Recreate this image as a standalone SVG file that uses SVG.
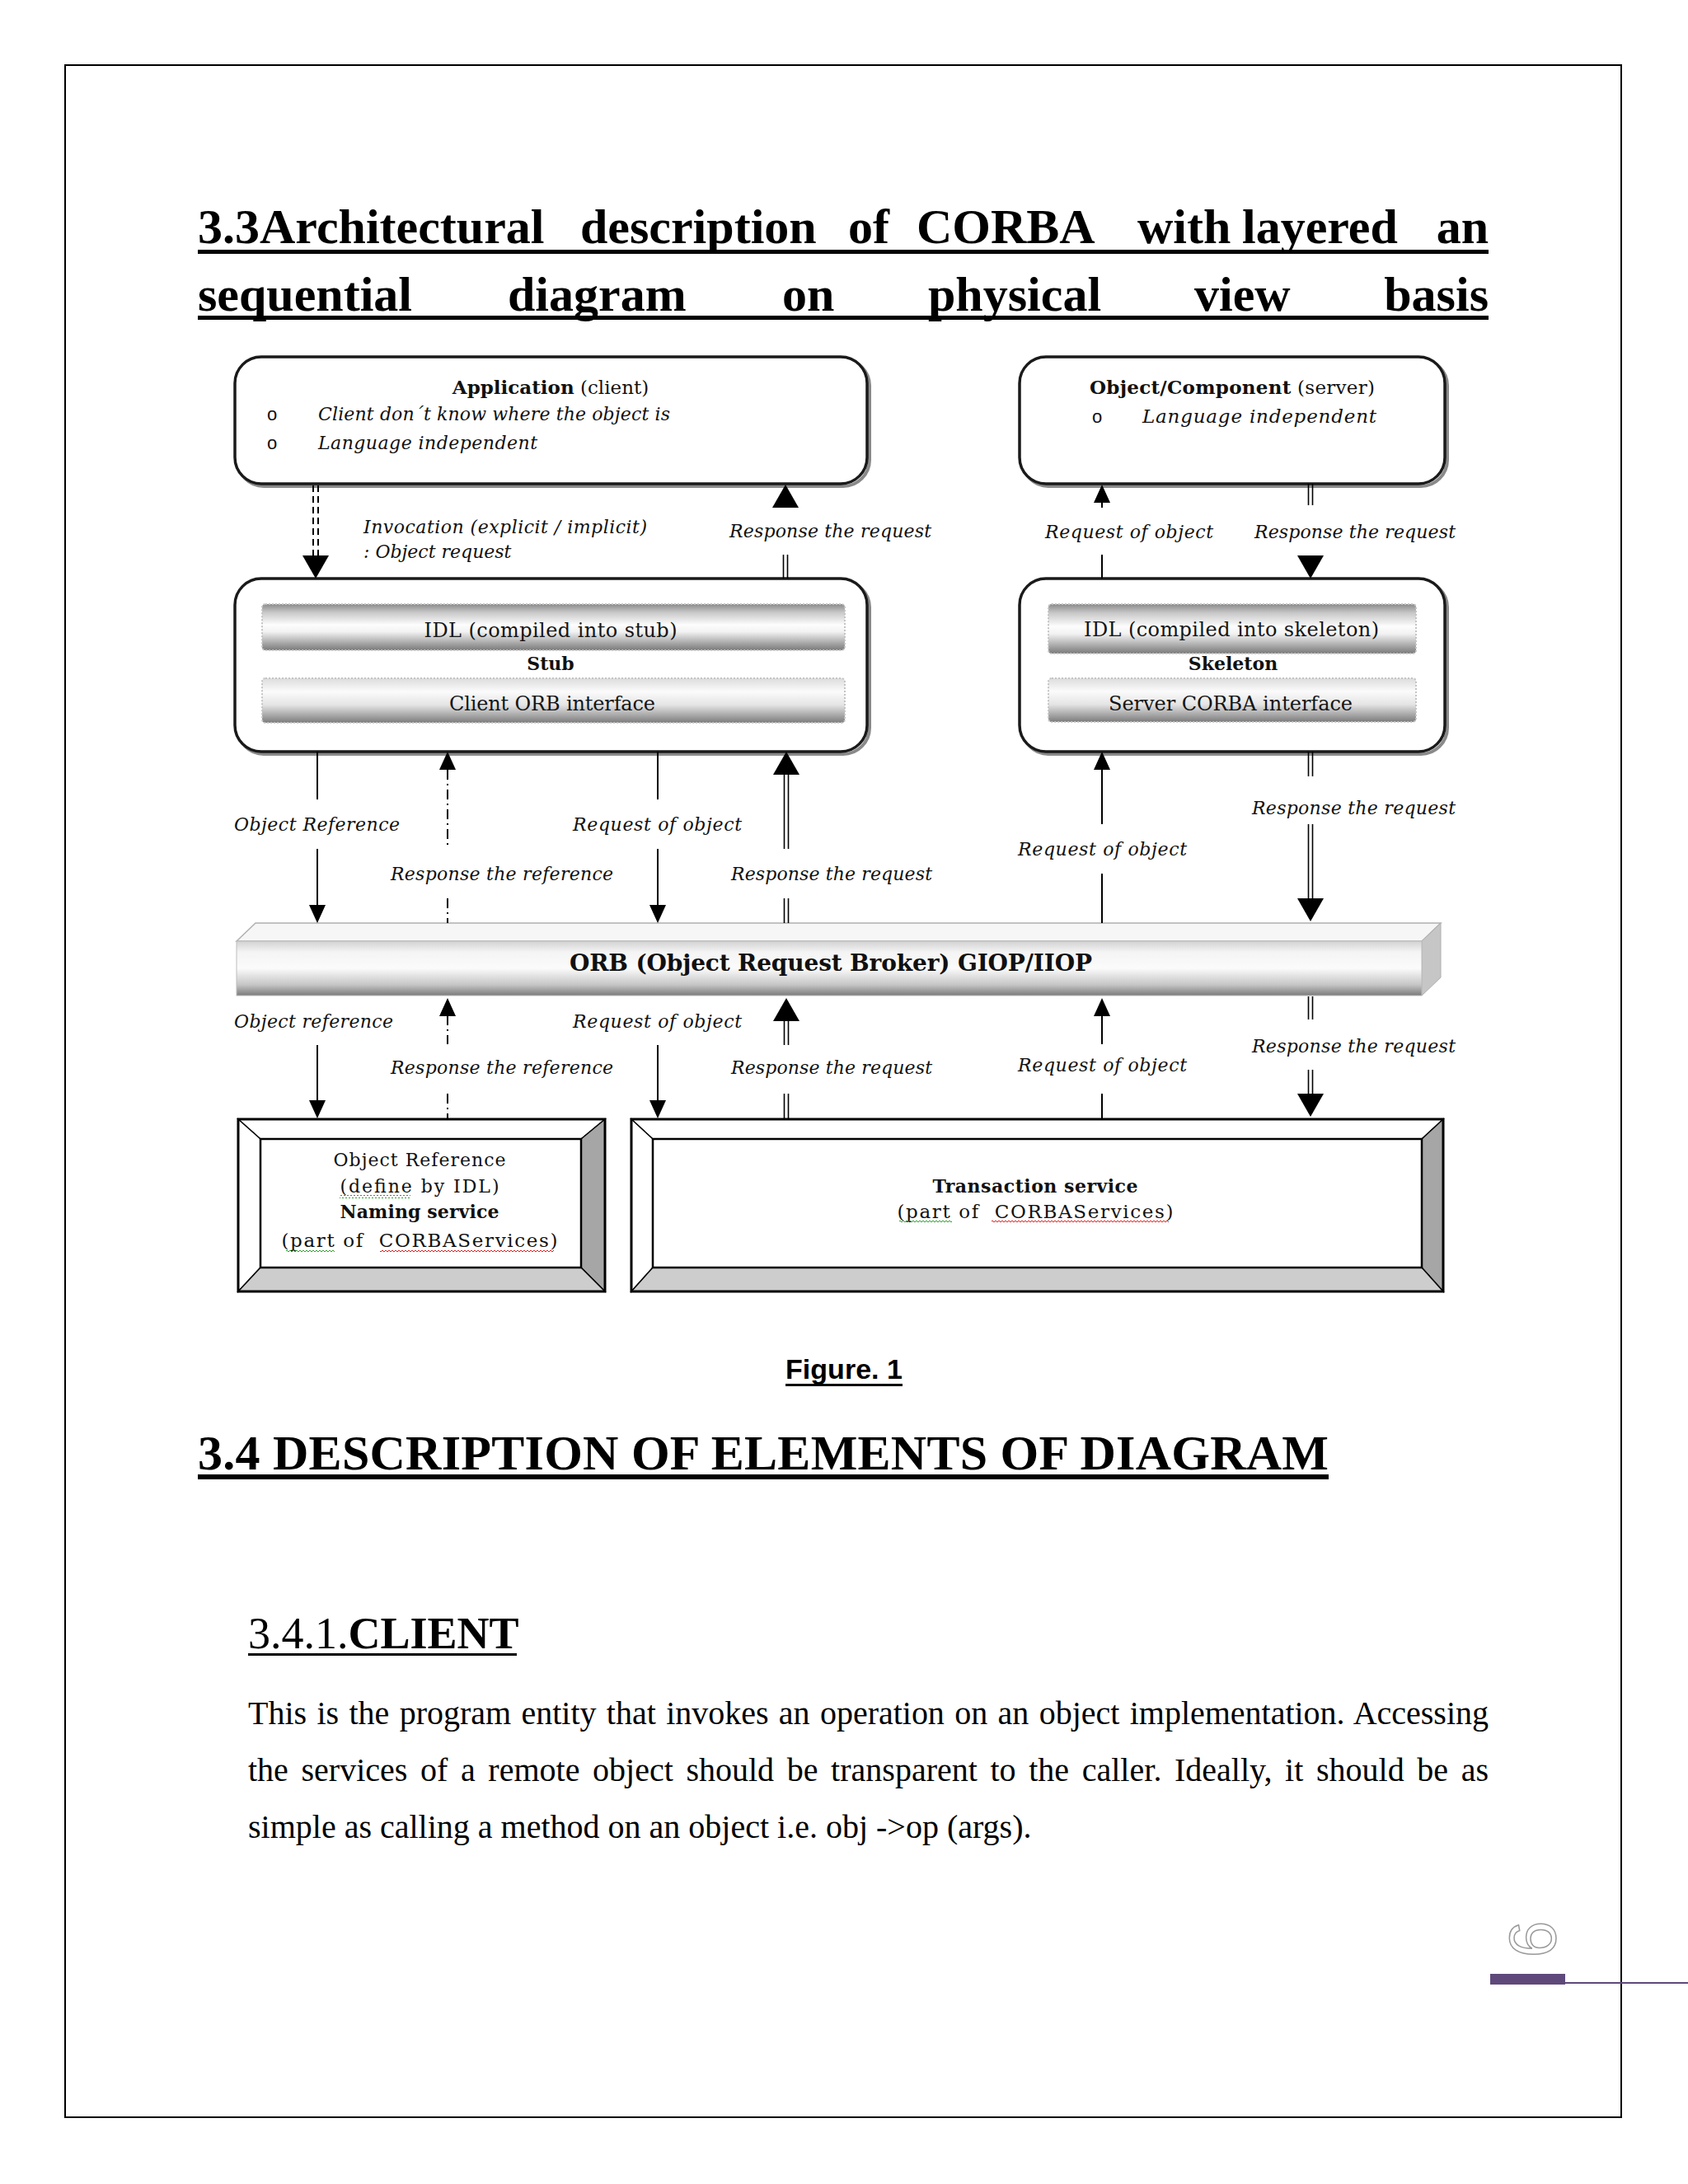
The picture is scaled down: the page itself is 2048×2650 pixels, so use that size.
<svg xmlns="http://www.w3.org/2000/svg" width="2048" height="2650" viewBox="0 0 2048 2650">
<defs>
<style>
.pg{fill:none;stroke:#000;stroke-width:2}
.h{font-family:"Liberation Serif","Times New Roman",serif;font-weight:bold;font-size:60px;fill:#000}
.lbl{font-family:"DejaVu Serif",serif;font-style:italic;font-size:22px;fill:#111}
.nt{font-family:"DejaVu Serif",serif;font-size:22px;fill:#111}
.bt{font-family:"DejaVu Serif",serif;font-size:24px;fill:#151515}
.bul{font-family:"Liberation Sans",sans-serif;font-size:22px;fill:#111}
.b{font-weight:bold}
.ln{stroke:#000;stroke-width:2;fill:none}
.dbl{stroke:#000;stroke-width:1.6;fill:none}
.dash{stroke-dasharray:12 5 2 5}
.dd{stroke-dasharray:8 5}
.rb{fill:#fff;stroke:#1a1a1a;stroke-width:3.5}
.rbs{fill:none;stroke:#8a8a8a;stroke-width:4}
.bar{stroke:#c4c4c4;stroke-width:2;stroke-dasharray:2 2}
.bev{stroke:#000;stroke-width:1.5}
.p{font-family:"Liberation Serif","Times New Roman",serif;font-size:40px;fill:#000}
.ah{fill:#000}
</style>
<linearGradient id="cyl" x1="0" y1="0" x2="0" y2="1">
<stop offset="0" stop-color="#8a8a8a"/><stop offset="0.18" stop-color="#c8c8c8"/><stop offset="0.45" stop-color="#fdfdfd"/><stop offset="0.6" stop-color="#f2f2f2"/><stop offset="0.85" stop-color="#a6a6a6"/><stop offset="1" stop-color="#7a7a7a"/>
</linearGradient>
<linearGradient id="cyl2" x1="0" y1="0" x2="0" y2="1">
<stop offset="0" stop-color="#dcdcdc"/><stop offset="0.3" stop-color="#fbfbfb"/><stop offset="0.6" stop-color="#e4e4e4"/><stop offset="1" stop-color="#7c7c7c"/>
</linearGradient>
<linearGradient id="orbF" x1="0" y1="0" x2="0" y2="1">
<stop offset="0" stop-color="#d2d2d2"/><stop offset="0.2" stop-color="#f4f4f4"/><stop offset="0.5" stop-color="#fbfbfb"/><stop offset="0.8" stop-color="#c6c6c6"/><stop offset="1" stop-color="#7a7a7a"/>
</linearGradient>
<pattern id="sqG" width="4" height="4" patternUnits="userSpaceOnUse"><path d="M0,1 L2,3 L4,1" stroke="#2e9e2e" stroke-width="1" fill="none"/></pattern>
<pattern id="sqR" width="4" height="4" patternUnits="userSpaceOnUse"><path d="M0,1 L2,3 L4,1" stroke="#e02020" stroke-width="1" fill="none"/></pattern>
<path id="ahS" class="ah" d="M-10,-22 L10,-22 L0,0 Z"/>
<path id="ahD" class="ah" d="M-16,-28 L16,-28 L0,0 Z"/>
</defs>

<rect width="2048" height="2650" fill="#fff"/>
<rect class="pg" x="79" y="79" width="1888" height="2490"/>

<!-- Title -->
<g id="title">
<text class="h" y="295"><tspan x="240">3.3Architectural</tspan><tspan x="704">description</tspan><tspan x="1029">of</tspan><tspan x="1112">CORBA</tspan><tspan x="1380">with</tspan><tspan x="1507">layered</tspan></text>
<text class="h" x="1806" y="295" text-anchor="end">an</text>
<text class="h" y="377"><tspan x="240">sequential</tspan><tspan x="616">diagram</tspan><tspan x="949">on</tspan><tspan x="1126">physical</tspan><tspan x="1449">view</tspan></text>
<text class="h" x="1806" y="377" text-anchor="end">basis</text>
<rect x="240" y="303" width="1566" height="5"/>
<rect x="240" y="383" width="1566" height="5"/>
</g>

<!-- Nodes -->
<g id="app">
<rect class="rbs" x="288" y="436" width="767" height="154" rx="32"/>
<rect class="rb" x="285" y="433" width="767" height="154" rx="32"/>
<text class="nt" x="668" y="478" text-anchor="middle" style="font-size:23px"><tspan class="b">Application</tspan> (client)</text>
<text class="bul" x="324" y="510">o</text>
<text class="lbl" x="386" y="510" textLength="427">Client don´t know where the object is</text>
<text class="bul" x="324" y="545">o</text>
<text class="lbl" x="386" y="545" textLength="266">Language independent</text>
</g>

<g id="objcomp">
<rect class="rbs" x="1240" y="436" width="516" height="154" rx="32"/>
<rect class="rb" x="1237" y="433" width="516" height="154" rx="32"/>
<text class="nt" x="1322" y="478" style="font-size:23px" textLength="346"><tspan class="b">Object/Component</tspan> (server)</text>
<text class="bul" x="1325" y="513">o</text>
<text class="lbl" x="1386" y="513" style="font-size:23px" textLength="284">Language independent</text>
</g>

<g id="stub">
<rect class="rbs" x="288" y="705" width="767" height="210" rx="32"/>
<rect class="rb" x="285" y="702" width="767" height="210" rx="32"/>
<rect class="bar" x="318" y="733" width="707" height="56" rx="4" fill="url(#cyl)"/>
<text class="bt" x="668" y="773" text-anchor="middle" textLength="307">IDL (compiled into stub)</text>
<text class="nt b" x="668" y="813" text-anchor="middle">Stub</text>
<rect class="bar" x="318" y="823" width="707" height="54" rx="4" fill="url(#cyl2)"/>
<text class="bt" x="670" y="862" text-anchor="middle" textLength="250">Client ORB interface</text>
</g>

<g id="skeleton">
<rect class="rbs" x="1240" y="705" width="516" height="210" rx="32"/>
<rect class="rb" x="1237" y="702" width="516" height="210" rx="32"/>
<rect class="bar" x="1272" y="733" width="446" height="60" rx="4" fill="url(#cyl)"/>
<text class="bt" x="1494" y="772" text-anchor="middle" textLength="358">IDL (compiled into skeleton)</text>
<text class="nt b" x="1496" y="813" text-anchor="middle">Skeleton</text>
<rect class="bar" x="1272" y="823" width="446" height="53" rx="4" fill="url(#cyl2)"/>
<text class="bt" x="1493" y="862" text-anchor="middle" textLength="296">Server CORBA interface</text>
</g>

<g id="orb">
<polygon points="287,1142 310,1120 1748,1120 1725,1142" fill="#f6f6f6" stroke="#b0b0b0" stroke-width="1.5"/>
<polygon points="1725,1142 1748,1120 1748,1186 1725,1208" fill="#c6c6c6" stroke="#b0b0b0" stroke-width="1"/>
<rect x="287" y="1142" width="1438" height="66" fill="url(#orbF)" stroke="#bdbdbd" stroke-width="1"/>
<text class="nt b" x="1008" y="1178" text-anchor="middle" style="font-size:28px" textLength="634">ORB (Object Request Broker) GIOP/IIOP</text>
</g>

<g id="naming">
<polygon points="289,1358 734,1358 705,1382 316,1382" fill="#fff" class="bev"/>
<polygon points="289,1358 316,1382 316,1538 289,1567" fill="#fff" class="bev"/>
<polygon points="734,1358 734,1567 705,1538 705,1382" fill="#a6a6a6" class="bev"/>
<polygon points="289,1567 316,1538 705,1538 734,1567" fill="#cdcdcd" class="bev"/>
<rect x="316" y="1382" width="389" height="156" fill="#fff" stroke="#000" stroke-width="2.5"/>
<rect x="289" y="1358" width="445" height="209" fill="none" stroke="#000" stroke-width="3"/>
<text class="nt" x="509" y="1415" text-anchor="middle" textLength="209">Object Reference</text>
<text class="nt" x="509" y="1447" text-anchor="middle" textLength="193">(define by IDL)</text>
<text class="nt b" x="509" y="1478" text-anchor="middle" textLength="193">Naming service</text>
<text class="nt" x="509" y="1513" text-anchor="middle" style="font-size:23px" textLength="335" xml:space="preserve">(part of  CORBAServices)</text>
<rect x="412" y="1450" width="86" height="4" fill="url(#sqG)"/>
<rect x="347" y="1516" width="59" height="4" fill="url(#sqG)"/>
<rect x="461" y="1516" width="211" height="4" fill="url(#sqR)"/>
</g>

<g id="transaction">
<polygon points="766,1358 1751,1358 1725,1382 792,1382" fill="#fff" class="bev"/>
<polygon points="766,1358 792,1382 792,1538 766,1567" fill="#fff" class="bev"/>
<polygon points="1751,1358 1751,1567 1725,1538 1725,1382" fill="#a6a6a6" class="bev"/>
<polygon points="766,1567 792,1538 1725,1538 1751,1567" fill="#cdcdcd" class="bev"/>
<rect x="792" y="1382" width="933" height="156" fill="#fff" stroke="#000" stroke-width="2.5"/>
<rect x="766" y="1358" width="985" height="209" fill="none" stroke="#000" stroke-width="3"/>
<text class="nt b" x="1256" y="1447" text-anchor="middle" textLength="249">Transaction service</text>
<text class="nt" x="1256" y="1478" text-anchor="middle" style="font-size:23px" textLength="335" xml:space="preserve">(part of  CORBAServices)</text>
<rect x="1091" y="1481" width="64" height="4" fill="url(#sqG)"/>
<rect x="1203" y="1481" width="215" height="4" fill="url(#sqR)"/>
</g>

<!-- Connectors -->
<g id="connectors">
<path class="ln dd" d="M380,589 V676 M386,589 V676"/>
<use href="#ahD" transform="translate(383,702)"/>
<use href="#ahD" transform="translate(953,588) rotate(180)"/>
<path class="dbl" d="M950.5,673 V702 M955.5,673 V702"/>
<use href="#ahS" transform="translate(1337,588) rotate(180)"/>
<path class="ln" d="M1337,609 V616 M1337,673 V702"/>
<path class="dbl" d="M1587.5,587 V613 M1592.5,587 V613"/>
<use href="#ahD" transform="translate(1590,702)"/>

<path class="ln" d="M385,912 V970 M385,1030 V1100"/>
<use href="#ahS" transform="translate(385,1120)"/>
<use href="#ahS" transform="translate(543,912) rotate(180)"/>
<path class="ln dash" d="M543,934 V1030 M543,1090 V1120"/>
<path class="ln" d="M798,912 V970 M798,1030 V1100"/>
<use href="#ahS" transform="translate(798,1120)"/>
<use href="#ahD" transform="translate(954,912) rotate(180)"/>
<path class="dbl" d="M951.5,940 V1030 M956.5,940 V1030 M951.5,1090 V1120 M956.5,1090 V1120"/>
<use href="#ahS" transform="translate(1337,912) rotate(180)"/>
<path class="ln" d="M1337,933 V1000 M1337,1060 V1120"/>
<path class="dbl" d="M1587.5,912 V942 M1592.5,912 V942 M1587.5,1000 V1091 M1592.5,1000 V1091"/>
<use href="#ahD" transform="translate(1590,1118)"/>

<path class="ln" d="M385,1268 V1336"/>
<use href="#ahS" transform="translate(385,1357)"/>
<use href="#ahS" transform="translate(543,1211) rotate(180)"/>
<path class="ln dash" d="M543,1232 V1267 M543,1327 V1358"/>
<path class="ln" d="M798,1268 V1336"/>
<use href="#ahS" transform="translate(798,1357)"/>
<use href="#ahD" transform="translate(954,1211) rotate(180)"/>
<path class="dbl" d="M951.5,1238 V1268 M956.5,1238 V1268 M951.5,1327 V1358 M956.5,1327 V1358"/>
<use href="#ahS" transform="translate(1337,1211) rotate(180)"/>
<path class="ln" d="M1337,1232 V1267 M1337,1327 V1358"/>
<path class="dbl" d="M1587.5,1209 V1237 M1592.5,1209 V1237 M1587.5,1298 V1328 M1592.5,1298 V1328"/>
<use href="#ahD" transform="translate(1590,1355)"/>

<text class="lbl" x="441" y="647" textLength="344">Invocation (explicit / implicit)</text>
<text class="lbl" x="441" y="677">: Object request</text>
<text class="lbl" x="885" y="652" textLength="245">Response the request</text>
<text class="lbl" x="1268" y="653" textLength="204">Request of object</text>
<text class="lbl" x="1522" y="653" textLength="244">Response the request</text>

<text class="lbl" x="284" y="1008" textLength="201">Object Reference</text>
<text class="lbl" x="695" y="1008" textLength="205">Request of object</text>
<text class="lbl" x="474" y="1068" textLength="270">Response the reference</text>
<text class="lbl" x="887" y="1068" textLength="244">Response the request</text>
<text class="lbl" x="1519" y="988" textLength="247">Response the request</text>
<text class="lbl" x="1235" y="1038" textLength="205">Request of object</text>

<text class="lbl" x="284" y="1247" textLength="193">Object reference</text>
<text class="lbl" x="695" y="1247" textLength="205">Request of object</text>
<text class="lbl" x="474" y="1303" textLength="270">Response the reference</text>
<text class="lbl" x="887" y="1303" textLength="244">Response the request</text>
<text class="lbl" x="1235" y="1300" textLength="205">Request of object</text>
<text class="lbl" x="1519" y="1277" textLength="247">Response the request</text>
</g>

<!-- Caption and text -->
<g id="caption">
<text x="1024" y="1673" text-anchor="middle" font-family="Liberation Sans, Arial, sans-serif" font-weight="bold" font-size="34" textLength="142">Figure. 1</text>
<rect x="953" y="1679" width="142" height="3"/>
</g>
<g id="body">
<text class="h" x="240" y="1783" textLength="1372">3.4 DESCRIPTION OF ELEMENTS OF DIAGRAM</text>
<rect x="240" y="1789" width="1372" height="6"/>
<text x="301" y="2000" font-family="Liberation Serif, serif" font-size="54">3.4.1.<tspan font-weight="bold">CLIENT</tspan></text>
<rect x="301" y="2006" width="326" height="3"/>
<text class="p" x="301" y="2092" word-spacing="2.4" textLength="1505">This is the program entity that invokes an operation on an object implementation. Accessing</text>
<text class="p" x="301" y="2161" word-spacing="5.6" textLength="1505">the services of a remote object should be transparent to the caller. Ideally, it should be as</text>
<text class="p" x="301" y="2230">simple as calling a method on an object i.e. obj -&gt;op (args).</text>
</g>

<g id="footer">
<text x="1859" y="2353" transform="rotate(-90 1859 2353)" font-family="Liberation Sans, sans-serif" font-size="80" text-anchor="middle" dominant-baseline="central" fill="none" stroke="#9a9a9a" stroke-width="1.5">6</text>
<rect x="1808" y="2395" width="91" height="13" fill="#5f497a"/>
<line x1="1899" y1="2406" x2="2048" y2="2406" stroke="#5f497a" stroke-width="2"/>
</g>
</svg>
